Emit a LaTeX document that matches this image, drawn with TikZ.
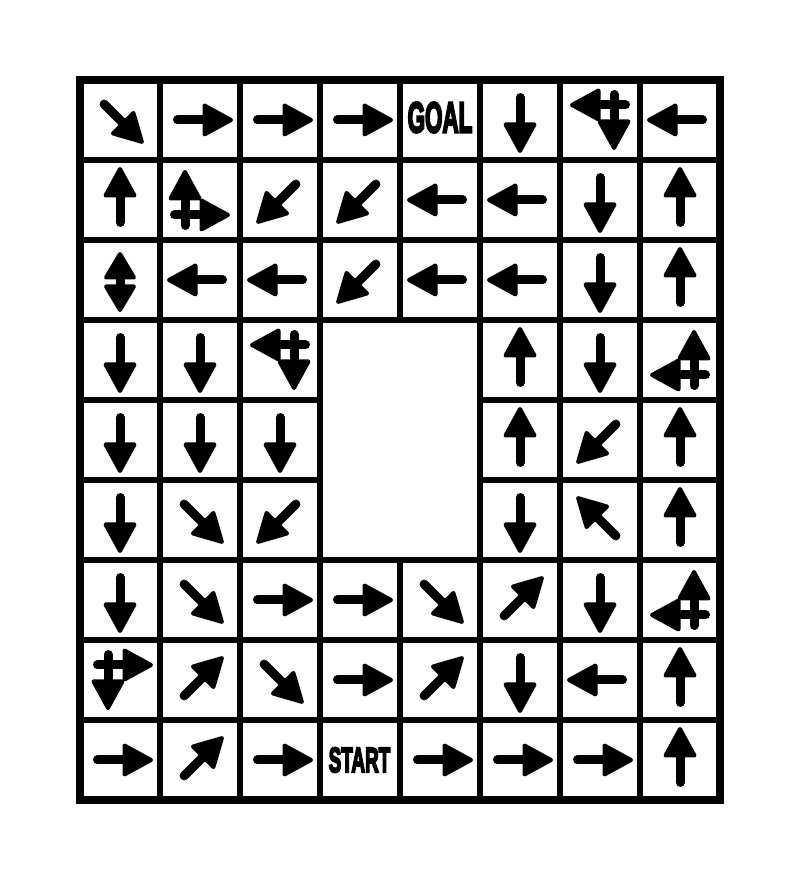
\documentclass[tikz,border=0pt]{standalone}
\usepackage{fontspec}
\usepackage{graphicx}
\setmainfont{Liberation Sans}
\newfontfamily\impactfont[FakeBold=6]{Liberation Sans Bold}
\tikzset{
  gridline/.style={line width=6pt, line cap=rect},
  outerline/.style={line width=8pt, line join=miter},
  shaft/.style={line width=9pt, line cap=round},
  arrhead/.style={line width=4pt, line join=round, fill=black, draw=black},
  lbl/.style={inner sep=0pt, outer sep=0pt}
}
\newcommand{\arrowglyph}{%
  \draw[shaft] (-25.5,0) -- (4,0);
  \filldraw[arrhead] (1.5,14.5) -- (28,0) -- (1.5,-14.5) -- cycle;}
\newcommand{\arw}[3]{\begin{scope}[shift={(#1,#2)},rotate=#3,xshift=3pt]\arrowglyph\end{scope}}
\newcommand{\arwc}[3]{\begin{scope}[shift={(#1,#2)},rotate=#3]\arrowglyph\end{scope}}
\newcommand{\darw}[3]{\begin{scope}[shift={(#1,#2)},rotate=#3,xshift=2pt]
  \draw[shaft] (-8,0) -- (8,0);
  \filldraw[arrhead] (4.5,14) -- (28,0) -- (4.5,-14) -- cycle;
  \filldraw[arrhead] (-4.5,14) -- (-28,0) -- (-4.5,-14) -- cycle;
\end{scope}}
\begin{document}
\begin{tikzpicture}[x=1pt,y=1pt]
\useasboundingbox (0,0) rectangle (799,877);
\fill[white] (0,0) rectangle (799,877);
% grid lines
\foreach \k in {2,...,8} \draw[gridline] (80*\k,797) -- (80*\k,77);
\foreach \k in {2,...,9} \draw[gridline] (80,877-80*\k) -- (720,877-80*\k);
% hole
\fill[white] (323,320) rectangle (477,554);
\draw[outerline] (80,797) rectangle (720,77);
% single arrows
\foreach \r/\c/\a in {
 1/1/-45, 1/2/0, 1/3/0, 1/4/0, 1/6/-90, 1/8/180,
 2/1/90, 2/3/-135, 2/4/-135, 2/5/180, 2/6/180, 2/7/-90, 2/8/90,
 3/2/180, 3/3/180, 3/4/-135, 3/5/180, 3/6/180, 3/7/-90, 3/8/90,
 4/1/-90, 4/2/-90, 4/6/90, 4/7/-90,
 5/1/-90, 5/2/-90, 5/3/-90, 5/6/90, 5/7/-135, 5/8/90,
 6/1/-90, 6/2/-45, 6/3/-135, 6/6/-90, 6/7/135, 6/8/90,
 7/1/-90, 7/2/-45, 7/3/0, 7/4/0, 7/5/-45, 7/6/45, 7/7/-90,
 8/2/45, 8/3/-45, 8/4/0, 8/5/45, 8/6/-90, 8/7/180, 8/8/90,
 9/1/0, 9/2/45, 9/3/0, 9/5/0, 9/6/0, 9/7/0, 9/8/90}
 {\arw{80*\c+40}{837-80*\r}{\a}}
% double-headed arrow
\darw{120}{597}{-90}
% combined pairs (row 1 col 7)
\arwc{600}{772}{180} \arwc{614}{757}{-90}
% row 2 col 2
\arwc{185}{677}{90} \arwc{200}{662}{0}
% row 4 col 3
\arwc{280}{532}{180} \arwc{294}{517}{-90}
% row 4 col 8
\arwc{694}{517}{90} \arwc{680}{502}{180}
% row 7 col 8
\arwc{694}{277}{90} \arwc{680}{262}{180}
% row 8 col 1
\arwc{123}{212}{0} \arwc{108}{197}{-90}
% labels
\node[lbl] (goal) at (440,759.5) {\impactfont\fontsize{43}{43}\selectfont\scalebox{0.52}[1]{GOAL}};
\node[lbl] (start) at (359.5,117) {\impactfont\fontsize{35}{35}\selectfont\scalebox{0.54}[1]{START}};
\end{tikzpicture}
\end{document}
